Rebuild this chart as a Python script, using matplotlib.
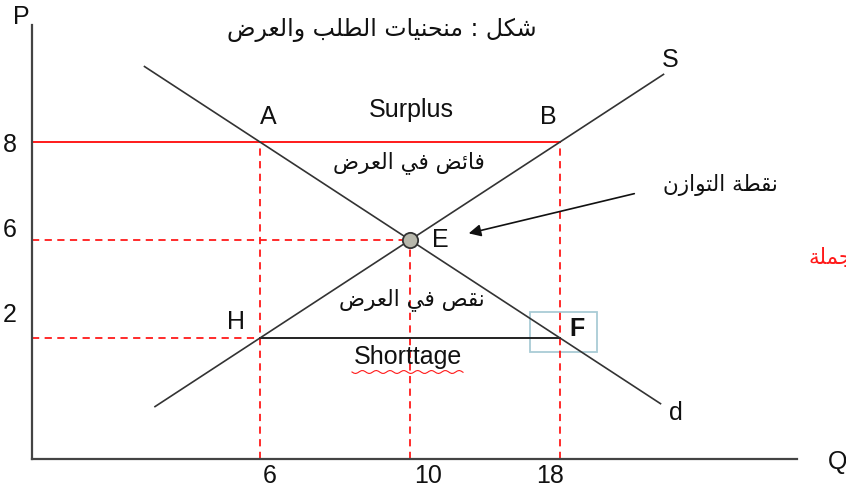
import numpy as np
import matplotlib.pyplot as plt
from matplotlib.patches import Rectangle

# schematic supply / demand diagram: ticks are equally spaced, not to scale
q_labels = ['6', '10', '18']
q_pos = [1, 2, 3]
p_labels = ['8', '6', '2']
p_pos = [3, 2, 1]

demand_q = [0.23, 3.67]
demand_p = [3.77, 0.33]
supply_q = [0.30, 3.69]
supply_p = [0.30, 3.69]

eq_q, eq_p = 2, 2          # E
high_p, low_p = 3, 1       # P = 8, P = 2
q_left, q_right = 1, 3     # Q = 6, Q = 18

title = 'شكل : منحنيات الطلب والعرض'
surplus_ar = 'فائض في العرض'
shortage_ar = 'نقص في العرض'
eq_ar = 'نقطة التوازن'
side_ar = 'جملة'

# --- tiny arabic shaper (matplotlib does no shaping / bidi) ---
forms = {'آ': (0xFE81, 0), 'أ': (0xFE83, 0), 'ؤ': (0xFE85, 0), 'إ': (0xFE87, 0),
         'ئ': (0xFE89, 1), 'ا': (0xFE8D, 0), 'ب': (0xFE8F, 1), 'ة': (0xFE93, 0),
         'ت': (0xFE95, 1), 'ث': (0xFE99, 1), 'ج': (0xFE9D, 1), 'ح': (0xFEA1, 1),
         'خ': (0xFEA5, 1), 'د': (0xFEA9, 0), 'ذ': (0xFEAB, 0), 'ر': (0xFEAD, 0),
         'ز': (0xFEAF, 0), 'س': (0xFEB1, 1), 'ش': (0xFEB5, 1), 'ص': (0xFEB9, 1),
         'ض': (0xFEBD, 1), 'ط': (0xFEC1, 1), 'ظ': (0xFEC5, 1), 'ع': (0xFEC9, 1),
         'غ': (0xFECD, 1), 'ف': (0xFED1, 1), 'ق': (0xFED5, 1), 'ك': (0xFED9, 1),
         'ل': (0xFEDD, 1), 'م': (0xFEE1, 1), 'ن': (0xFEE5, 1), 'ه': (0xFEE9, 1),
         'و': (0xFEED, 0), 'ى': (0xFEEF, 0), 'ي': (0xFEF1, 1)}


def ar(s):
    out = []
    for i, c in enumerate(s):
        if c not in forms:
            out.append(c)
            continue
        base, dual = forms[c]
        prv = s[i - 1] if i > 0 else ''
        nxt = s[i + 1] if i + 1 < len(s) else ''
        pj = prv in forms and forms[prv][1] == 1
        nj = nxt in forms
        if dual and pj and nj:
            k = 3
        elif pj:
            k = 1
        elif dual and nj:
            k = 2
        else:
            k = 0
        out.append(chr(base + k))
    return ''.join(out[::-1])


W, H = 846, 486
fig = plt.figure(figsize=(W / 100, H / 100), dpi=100)
# axes box: origin at pixel (32, 459), ends at x=797, top y=25
ax = fig.add_axes([32 / W, (H - 459) / H, (797 - 32) / W, (459 - 25) / H])
x0, x1 = (32 - 110) / 150, (797 - 110) / 150
y0, y1 = (436 - 459) / 98, (436 - 25) / 98
ax.set_xlim(x0, x1)
ax.set_ylim(y0, y1)
for s in ['top', 'right']:
    ax.spines[s].set_visible(False)
for s in ['left', 'bottom']:
    ax.spines[s].set_color('#444444')
    ax.spines[s].set_linewidth(1.6)
ax.set_xticks([])
ax.set_yticks([])


def px(x, y):
    return (x - 110) / 150, (436 - y) / 98


red = '#ff1a1a'
dash = dict(color=red, lw=1.3, ls=(0, (4, 3)))
# guide lines
ax.plot([x0, q_right], [high_p, high_p], color=red, lw=1.4)
ax.plot([x0, eq_q], [eq_p, eq_p], **dash)
ax.plot([x0, q_left], [low_p, low_p], **dash)
ax.plot([q_left, q_left], [y0, high_p], **dash)
ax.plot([eq_q, eq_q], [y0, eq_p], **dash)
ax.plot([q_right, q_right], [y0, high_p], **dash)
ax.plot([q_left, q_right], [low_p, low_p], color='#222222', lw=1.4)

# curves
ax.plot(demand_q, demand_p, color='#333333', lw=1.2)
ax.plot(supply_q, supply_p, color='#333333', lw=1.2)
ax.plot([eq_q], [eq_p], 'o', ms=11, mfc='#b8b8ac', mec='#333333', mew=1.3, zorder=5)

# box around F
bx, by = px(530, 352)
ax.add_patch(Rectangle((bx, by), 67 / 150, 40 / 98, fill=False, ec='#a9ccd6', lw=1.3))

fs = 18
lat = dict(family='Liberation Sans', fontsize=fs, color='#111111', ha='center', va='center',
           clip_on=False)
ax.annotate('A', (q_left, high_p), xytext=(8, 25), textcoords='offset pixels', **lat)
ax.annotate('B', (q_right, high_p), xytext=(-12, 25), textcoords='offset pixels', **lat)
ax.annotate('E', (eq_q, eq_p), xytext=(30, 0), textcoords='offset pixels', **lat)
ax.annotate('H', (q_left, low_p), xytext=(-24, 16), textcoords='offset pixels', **lat)
ax.annotate('F', (q_right, low_p), xytext=(17, 9), textcoords='offset pixels',
            fontweight='bold', **lat)
ax.text(*px(670, 60), 'S', **lat)
ax.text(*px(676, 413), 'd', **lat)
ax.text(*px(21, 17), 'P', **lat)
ax.text(*px(838, 462), 'Q', **lat)
ax.text(*px(411, 110), 'Surplus', **lat)
ax.text(*px(408, 357), 'Shorttage', **lat)

# tick labels (the printed labels sit a little off their guide lines)
q_lab_dx = [10, 18, -10]
for lab, q, dx in zip(q_labels, q_pos, q_lab_dx):
    ax.text(q + dx / 150, px(0, 476)[1], lab, **lat)
p_lab_y = [145, 230, 315]
for lab, p, ly in zip(p_labels, p_pos, p_lab_y):
    ax.text(px(10, 0)[0], px(0, ly)[1], lab, **lat)

# wavy spell-check underline under "Shorttage"
wx = np.linspace(352, 463, 60)
wy = 372 + 1.5 * np.sin((wx - 352) / 2.2)
ax.plot((wx - 110) / 150, (436 - wy) / 98, color=red, lw=0.8, clip_on=False)

arab = dict(family='DejaVu Sans', fontsize=15.5, color='#111111', ha='center', va='center',
            clip_on=False)
ax.text(*px(382, 30), ar(title), **dict(arab, fontsize=17))
ax.text(*px(409, 163), ar(surplus_ar), **arab)
ax.text(*px(412, 300), ar(shortage_ar), **arab)
ax.text(*px(720, 185), ar(eq_ar), **arab)
ax.text(*px(808, 258), ar(side_ar), **dict(arab, color=red, ha='left'))

# arrow to the equilibrium point
ax.annotate('', xy=px(466, 234), xytext=px(637, 193),
            arrowprops=dict(arrowstyle='-|>', color='#111111', lw=1.2, mutation_scale=18))

fig.savefig('out.png', dpi=100)
